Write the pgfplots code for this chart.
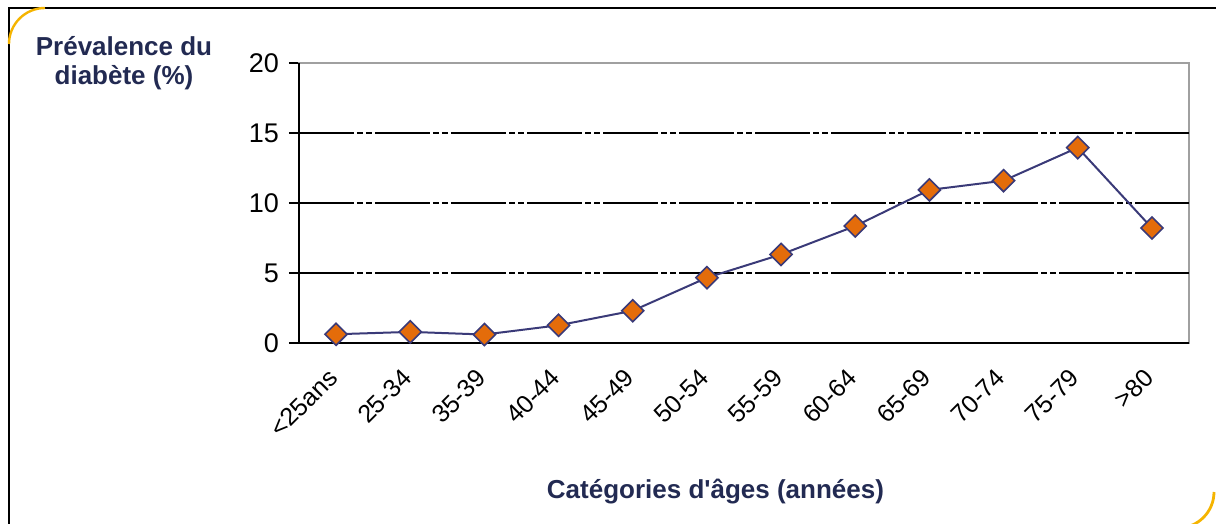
\documentclass[border=0pt]{standalone}
\usepackage{fontspec}
\setmainfont{Liberation Sans}
\usepackage{pgfplots}
\pgfplotsset{compat=1.18}
\definecolor{navy}{HTML}{222A52}
\definecolor{linecol}{HTML}{3A3A78}
\definecolor{mk}{HTML}{E46C0A}
\definecolor{gold}{HTML}{F5B400}
\definecolor{boxgray}{HTML}{A0A0A0}
\begin{document}
\begin{tikzpicture}
\path[use as bounding box] (-149.5pt,-90.25pt) rectangle (458.5pt,171.75pt);
% outer frame
\draw[black, line width=1pt] (-145pt,-90.25pt) -- (-145pt,167.75pt) -- (458.5pt,167.75pt);
\draw[gold, line width=1.2pt] (-145pt,149.75pt) arc[start angle=180, end angle=90, radius=18pt];
\draw[gold, line width=1.4pt] (457.5pt,-74.25pt) arc[start angle=0, end angle=-90, radius=18pt];
\begin{axis}[
  at={(0pt,0pt)}, anchor=south west,
  scale only axis, width=445pt, height=140pt,
  xmin=-0.5, xmax=11.5, ymin=0, ymax=20,
  xtick={0,...,11},
  xticklabels={{<25ans},{25-34},{35-39},{40-44},{45-49},{50-54},{55-59},{60-64},{65-69},{70-74},{75-79},{>80}},
  minor xtick={-0.5,0.5,...,11.5},
  ytick={0,5,10,15,20},
  extra y ticks={5,10,15},
  extra y tick labels={},
  extra y tick style={grid=major, major tick length=0pt},
  major grid style={black, line width=1pt, dash pattern=on 27.5pt off 1.5pt on 3pt off 1.5pt on 3pt off 1.5pt},
  xtick pos=bottom, ytick pos=left,
  tick align=outside,
  xtick style={draw=none},
  minor tick length=4.5pt,
  major tick length=5pt,
  tick style={black, line width=1pt},
  minor x tick style={black, line width=1pt},
  axis line style={boxgray, line width=1pt},
  /pgf/number format/assume math mode=true,
  tick label style={font=\fontsize{13.5}{15}\selectfont, text=black},
  yticklabel style={xshift=-1.5pt},
  xticklabel style={font=\fontsize{12.5}{14}\selectfont, rotate=45, anchor=east, inner sep=0pt, xshift=-8pt, yshift=-6pt},
  clip=false,
]
\addplot[linecol, line width=1pt, mark=square*, mark size=3.9pt,
  mark options={rotate=45, fill=mk, draw=linecol, line width=0.8pt}]
  coordinates {(0,0.66) (1,0.83) (2,0.64) (3,1.30) (4,2.34) (5,4.70) (6,6.36) (7,8.39) (8,10.97) (9,11.63) (10,13.99) (11,8.25)};
\draw[black, line width=1pt] (rel axis cs:0,1) -- (rel axis cs:0,0) -- (rel axis cs:1,0);
\end{axis}
\node[text=navy, font=\fontsize{13}{14.5}\selectfont\bfseries, align=center] at (-87.5pt,140.25pt) {Prévalence du\\diabète (\%)};
\node[text=navy, font=\fontsize{13}{14.5}\selectfont\bfseries] at (208.25pt,-74.25pt) {Catégories d\textquotesingle âges (années)};
\end{tikzpicture}
\end{document}
